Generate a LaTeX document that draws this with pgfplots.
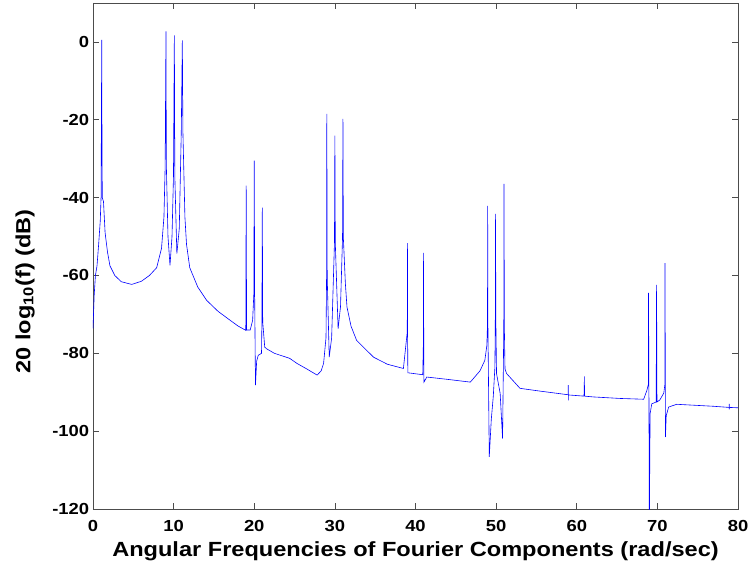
\documentclass[border=0pt]{standalone}
\usepackage{pgfplots}
\pgfplotsset{compat=1.18}
\usepackage{fontspec}
\setmainfont{Liberation Sans}
\newfontfamily\mfont{Liberation Sans}[FakeStretch=1.15]
\begin{document}
\begin{tikzpicture}
\path[use as bounding box] (-93pt,-59pt) rectangle (656pt,509pt);
\begin{axis}[
  at={(0pt,0pt)}, anchor=south west,
  scale only axis,
  width=645pt, height=506pt,
  xmin=0, xmax=80, ymin=-120, ymax=10,
  xtick={0,10,...,80}, ytick={-120,-100,...,0},
  tick align=inside,
  xtick pos=both, ytick pos=both,
  major tick length=6pt,
  axis line style={black!70, line width=0.8pt},
  tick style={black!70, line width=0.6pt},
  /pgf/number format/assume math mode=true,
  tick label style={font=\mfont\bfseries\fontsize{16}{17}\selectfont},
  xticklabel style={anchor=base, inner sep=0pt, yshift=-22.7pt},
  yticklabel style={anchor=east, inner sep=0pt, xshift=-3.7pt},
  label style={font=\mfont\bfseries\fontsize{20.5}{21}\selectfont},
  xlabel={Angular Frequencies of Fourier Components (rad/sec)},
  ylabel={20 log\textsubscript{10}(f) (dB)},
  xlabel style={at={(axis description cs:0.5,0)}, anchor=base, yshift=-47pt, inner sep=0pt},
  ylabel style={at={(axis description cs:-0.1054,0.43)}, anchor=center, inner sep=0pt},
  clip=true,
]
\addplot[blue, line width=0.6pt] table {
x y
0.0 -73.6
0.15 -65
0.3 -60
0.5 -57.5
0.7 -52
0.9 -46
1.0 -40
1.05 -16.4
1.08 0.5
1.10 -16.4
1.15 -40
1.3 -41
1.5 -49
1.8 -54
2.1 -57.5
2.7 -60
3.5 -61.6
4.8 -62.3
6.0 -61.5
7.0 -60
7.9 -58
8.5 -53
8.8 -45
8.95 -32
9.05 2.7
9.1 -32
9.3 -50
9.55 -57.4
9.8 -50
9.98 -34.6
10.09 1.7
10.15 -34.6
10.4 -54.4
10.7 -48
10.95 -23
11.08 0.4
11.15 -23
11.4 -45
11.6 -52
12.0 -58
13.0 -63
14.1 -66.4
15.5 -69.2
17.0 -71.5
18.0 -73
18.95 -74.1
19.0 -36.9
19.05 -74
19.5 -74
19.8 -71.5
19.95 -64.7
20.0 -30.5
20.05 -64.7
20.15 -88.2
20.3 -82
20.5 -80.5
20.9 -80
20.95 -72
21.0 -42.6
21.05 -72
21.3 -78.4
21.5 -78.8
22.5 -80
24.4 -81.3
25.3 -82.6
26.5 -84
27.8 -85.6
28.3 -84.5
28.6 -82.6
28.9 -76
28.97 -60.4
29.0 -18.5
29.05 -60.4
29.3 -81
29.6 -76
29.95 -51.5
30.0 -24.1
30.05 -51.5
30.4 -73.7
30.7 -68
30.95 -50.2
31.0 -19.8
31.05 -50.2
31.3 -62
31.5 -68.1
32.0 -73
32.7 -76.7
34.8 -81
36.5 -82.8
38.5 -83.9
38.98 -74.5
39.0 -51.7
39.02 -74.5
39.05 -85
40.9 -85.5
40.98 -77.1
41.0 -54.2
41.02 -77.1
41.05 -87.4
41.4 -86.1
44 -86.7
46.8 -87.4
48.0 -84.5
48.6 -81.8
48.85 -78
48.93 -72.4
48.95 -42.1
48.98 -72.4
49.15 -106.6
49.4 -97
49.65 -91
49.85 -83.5
49.9 -70.7
49.93 -44.2
49.96 -70.7
50.05 -85.2
50.5 -90.3
50.8 -101.9
50.95 -73.3
50.98 -36.5
51.02 -73.3
51.1 -84
51.3 -85.2
52.96 -89
55.4 -89.7
58.75 -90.6
58.94 -90.6
58.95 -88.2
58.96 -92.1
58.97 -90.7
60.9 -91
60.95 -85.9
60.96 -91
62 -91.2
65.4 -91.6
68.3 -91.8
68.7 -89.5
68.88 -88
68.9 -64.5
68.95 -88
69.0 -125
69.1 -95.5
69.3 -93
69.85 -92.5
69.9 -62.4
69.95 -92.5
70.3 -92
70.8 -90.2
70.93 -88
70.95 -56.8
71.0 -101.5
71.1 -96
71.4 -93.8
72.4 -93.1
76.9 -93.6
78.9 -93.9
78.91 -93
78.92 -94.4
78.93 -93.9
80 -94
};
\end{axis}
\end{tikzpicture}
\end{document}
